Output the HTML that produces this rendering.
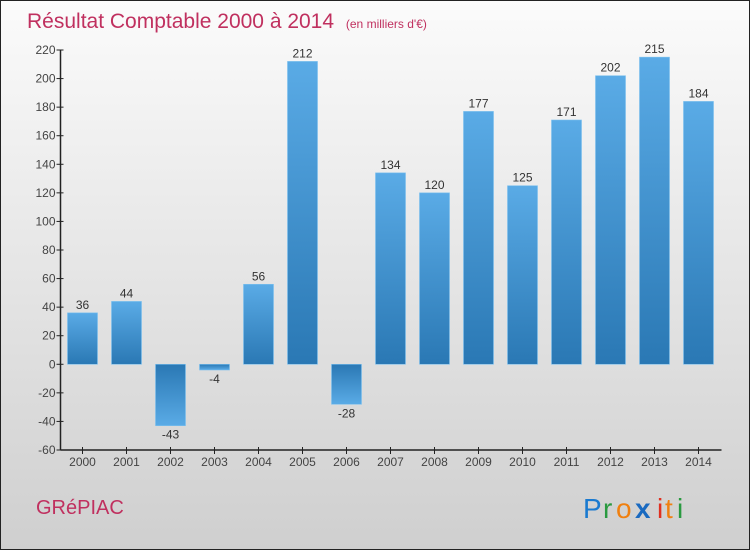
<!DOCTYPE html>
<html><head><meta charset="utf-8"><style>
body{margin:0;width:750px;height:550px;overflow:hidden;font-family:"Liberation Sans",sans-serif}
</style></head><body>
<svg width="750" height="550" xmlns="http://www.w3.org/2000/svg">
<defs>
<linearGradient id="bg" x1="0" y1="0" x2="0" y2="1"><stop offset="0" stop-color="#fbfbfb"/><stop offset="1" stop-color="#cfcfcf"/></linearGradient>
<linearGradient id="bp" x1="0" y1="0" x2="0" y2="1"><stop offset="0" stop-color="#5aabe6"/><stop offset="1" stop-color="#2a78b4"/></linearGradient>
<linearGradient id="bn" x1="0" y1="0" x2="0" y2="1"><stop offset="0" stop-color="#2a78b4"/><stop offset="1" stop-color="#5aabe6"/></linearGradient>
</defs>
<rect x="0.5" y="0.5" width="749" height="549" fill="url(#bg)" stroke="#222"/>
<text x="27" y="28" font-size="21" fill="#c0305f">Résultat Comptable 2000 à 2014 <tspan font-size="12" dx="6">(en milliers d'€)</tspan></text>
<text x="36" y="514" font-size="20" fill="#c0305f">GRéPIAC</text>
<g font-size="28">
<text x="583" y="518" fill="#1a7ad0">P</text><text x="603" y="518" fill="#2a9a40">r</text><text x="616" y="518" fill="#f08010">o</text><text x="635" y="518" fill="#1a6ac0" font-weight="bold">x</text><text x="657" y="518" fill="#e03020">i</text><text x="665" y="518" fill="#f08010">t</text><text x="677" y="518" fill="#2a9a40">i</text>
</g>
<g id="plot"></g>
</svg>
<script>
const years=["2000","2001","2002","2003","2004","2005","2006","2007","2008","2009","2010","2011","2012","2013","2014"];
const values=[36,44,-43,-4,56,212,-28,134,120,177,125,171,202,215,184];
const ticks=[-60,-40,-20,0,20,40,60,80,100,120,140,160,180,200,220];
const ns="http://www.w3.org/2000/svg";
const g=document.getElementById('plot');
const x0=60.5,slot=44,yMin=-60,yMax=220,plotTop=50,plotBot=450;
const y=v=>plotBot-(v-yMin)/(yMax-yMin)*(plotBot-plotTop);
function el(t,a,txt){const e=document.createElementNS(ns,t);for(const k in a)e.setAttribute(k,a[k]);if(txt!=null)e.textContent=txt;g.appendChild(e);return e;}
ticks.forEach(t=>{
 const l=el('line',{x1:x0-4,x2:x0+3,y1:y(t),y2:y(t),stroke:'#222'});
 
 
 const tx=el('text',{x:x0-5,y:y(t)+4,'text-anchor':'end','font-size':12,fill:'#444'},t);
 
 
});
values.forEach((v,i)=>{
 const cx=x0+slot*i+slot/2;
 const y1=y(Math.max(v,0)),y2=y(Math.min(v,0));
 const r=el('rect',{x:cx-15,y:y1,width:30,height:Math.max(y2-y1,1),fill:v>=0?'url(#bp)':'url(#bn)',stroke:'#7cc0ee','stroke-width':0.6});
 
 
 const ly=v>=0?y1-4:y2+13;
 const t=el('text',{x:cx,y:ly,'text-anchor':'middle','font-size':12,fill:'#333'},v);
 
 
 const tk=el('line',{x1:cx,x2:cx,y1:plotBot-3,y2:plotBot+4,stroke:'#222'});
 
 
 const xl=el('text',{x:cx,y:plotBot+16,'text-anchor':'middle','font-size':12,fill:'#444'},years[i]);
 
 
});
const ya=el('line',{x1:x0,x2:x0,y1:plotTop,y2:plotBot,stroke:'#222','stroke-width':1.5});


const xa=el('line',{x1:x0,x2:x0+slot*15+1,y1:plotBot,y2:plotBot,stroke:'#222','stroke-width':1.5});


</script>
</body></html>
